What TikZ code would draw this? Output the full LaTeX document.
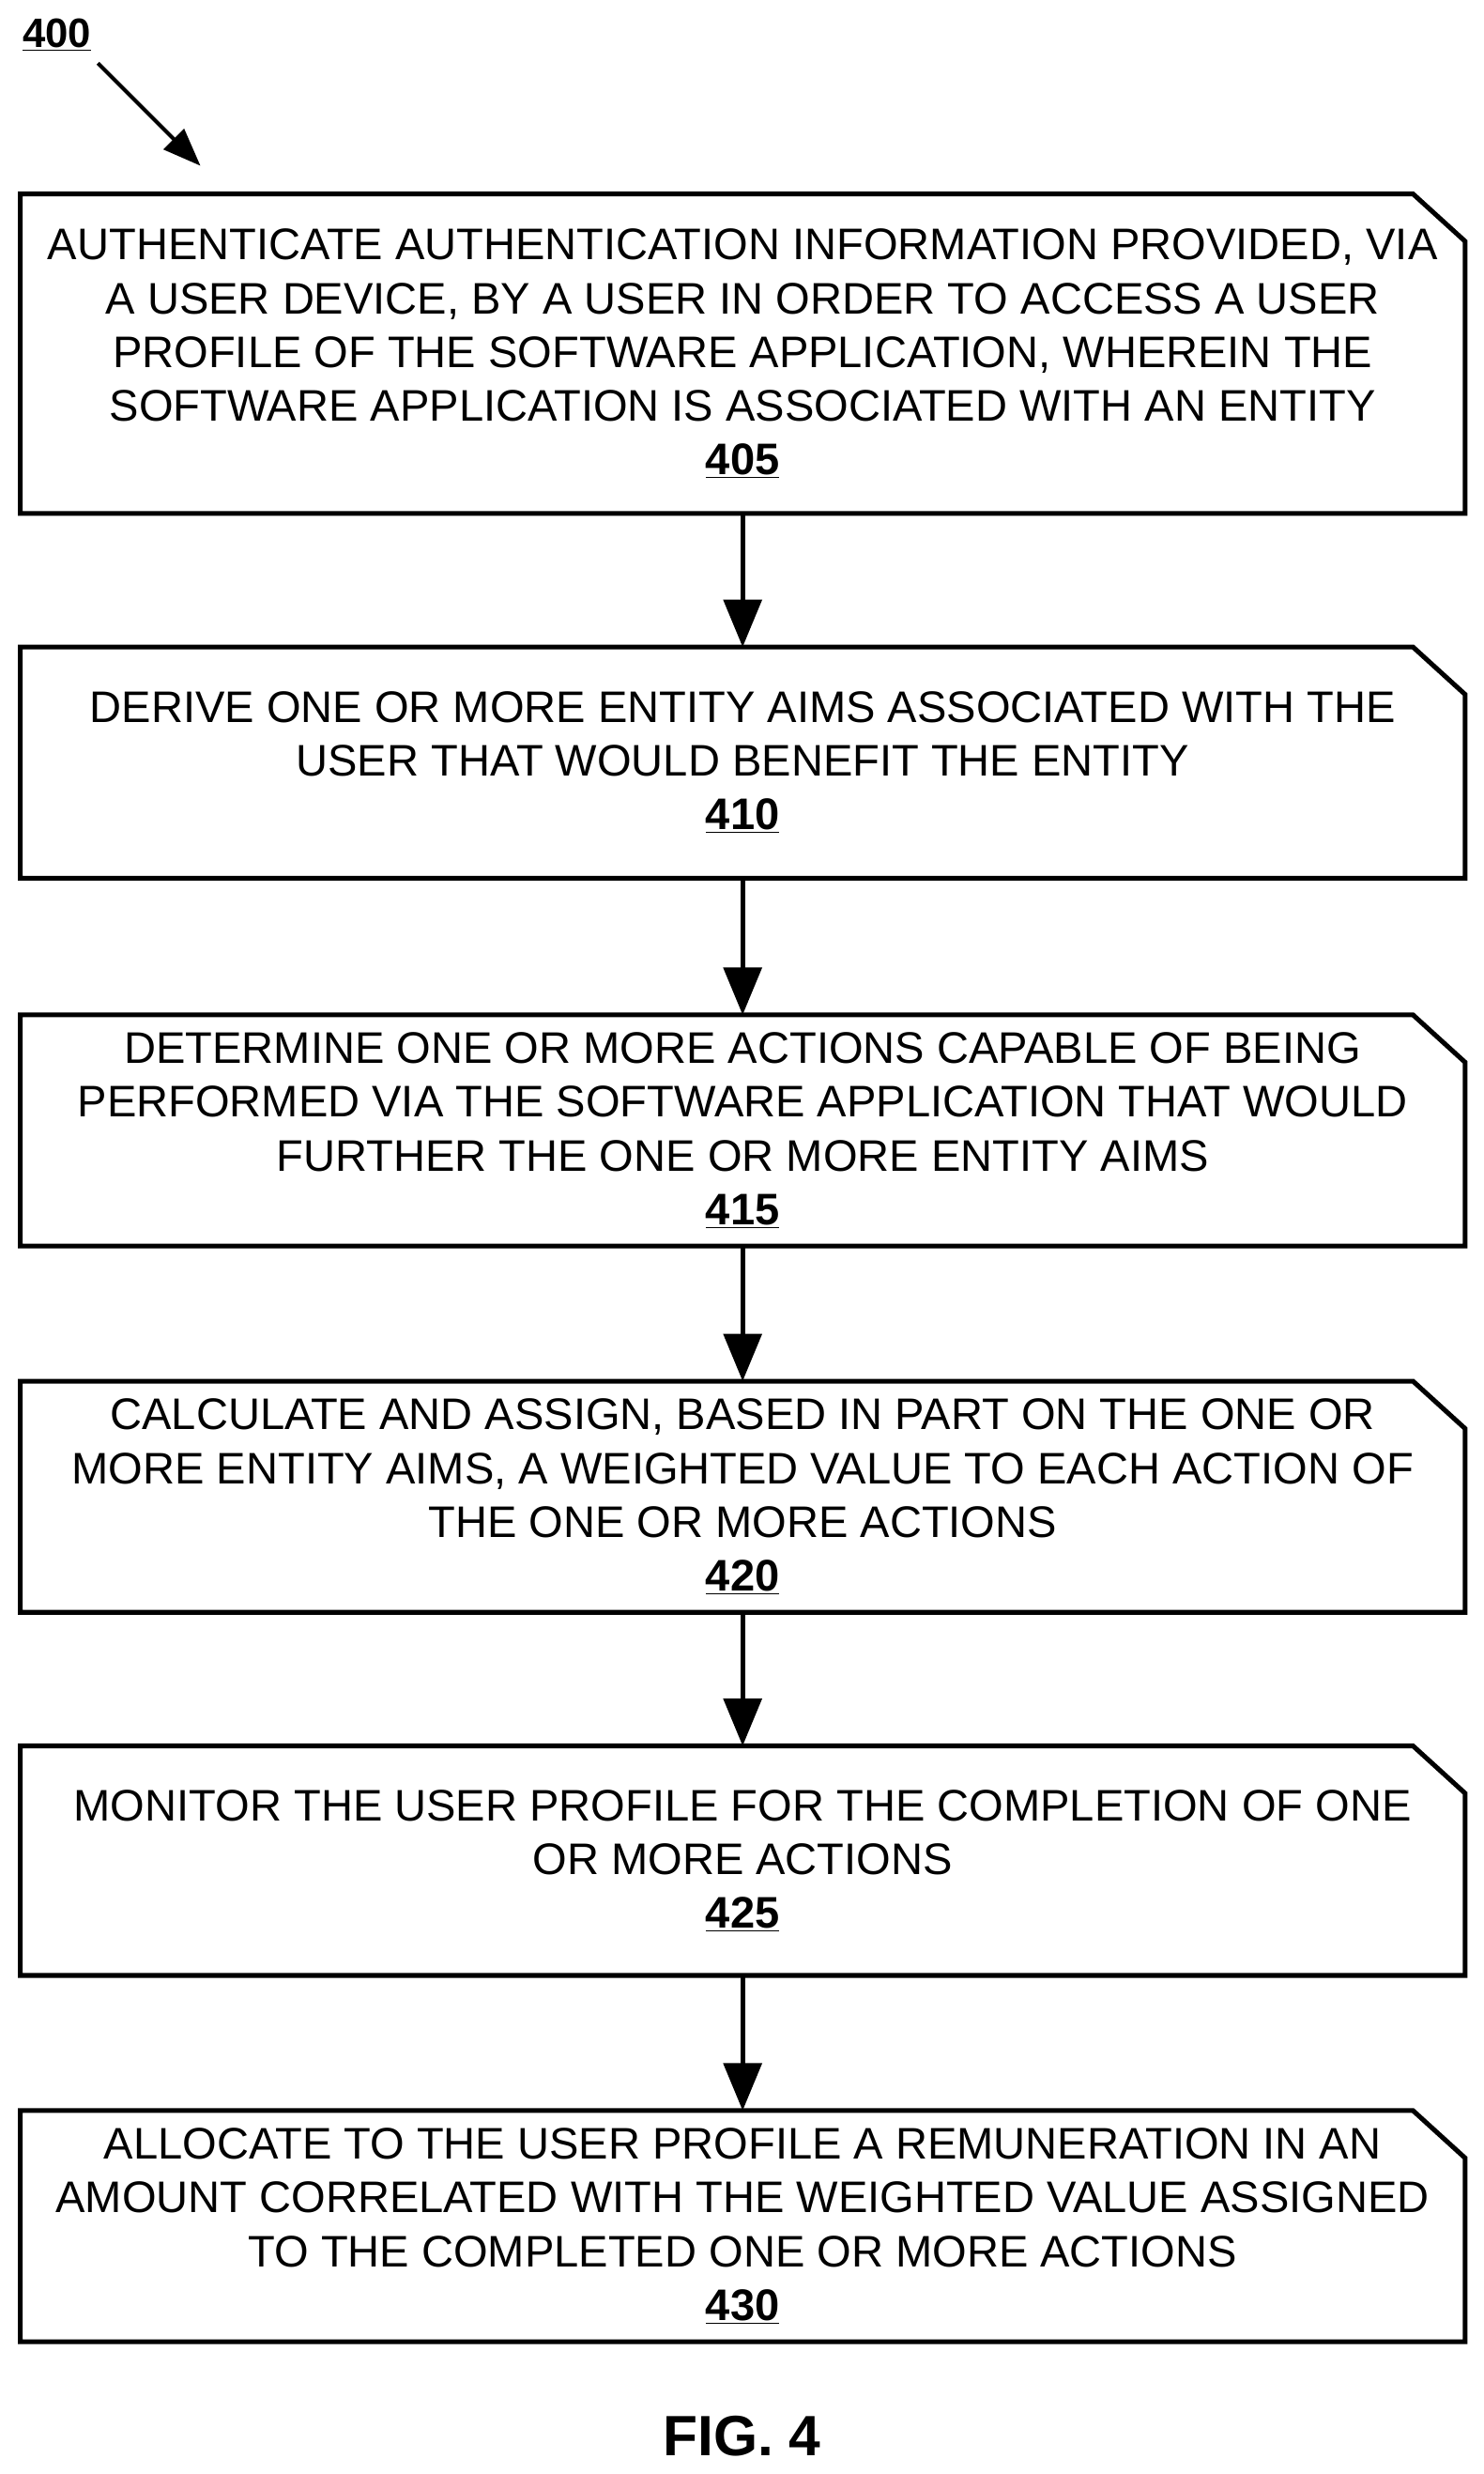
\documentclass[tikz,border=0pt]{standalone}
\usepackage{fontspec}
\setmainfont{Liberation Sans}
\usetikzlibrary{arrows.meta}
\begin{document}
\begin{tikzpicture}[x=1pt,y=1pt,
  stepbox/.style={minimum width=915pt,inner sep=0pt,align=center,font=\fontsize{28}{34}\selectfont},
  conn/.style={line width=3pt,-{Triangle[length=30pt,width=24pt]}}]
\useasboundingbox (0,0) rectangle (940,-1567);
\newcommand{\chamf}[1]{\draw[line width=3pt,line join=miter] (#1.south west) -- (#1.north west) -- ([xshift=-33pt]#1.north east) -- ([yshift=-30pt]#1.north east) -- (#1.south east) -- cycle;}
\node[stepbox,minimum height=202pt] (b1) at (470.5,-224) {AUTHENTICATE AUTHENTICATION INFORMATION PROVIDED, VIA\\A USER DEVICE, BY A USER IN ORDER TO ACCESS A USER\\PROFILE OF THE SOFTWARE APPLICATION, WHEREIN THE\\SOFTWARE APPLICATION IS ASSOCIATED WITH AN ENTITY\\\textbf{\underline{405}}};
\node[stepbox,minimum height=146pt] (b2) at (470.5,-483) {DERIVE ONE OR MORE ENTITY AIMS ASSOCIATED WITH THE\\USER THAT WOULD BENEFIT THE ENTITY\\\textbf{\underline{410}}};
\node[stepbox,minimum height=146pt] (b3) at (470.5,-716) {DETERMINE ONE OR MORE ACTIONS CAPABLE OF BEING\\PERFORMED VIA THE SOFTWARE APPLICATION THAT WOULD\\FURTHER THE ONE OR MORE ENTITY AIMS\\\textbf{\underline{415}}};
\node[stepbox,minimum height=146pt] (b4) at (470.5,-948) {CALCULATE AND ASSIGN, BASED IN PART ON THE ONE OR\\MORE ENTITY AIMS, A WEIGHTED VALUE TO EACH ACTION OF\\THE ONE OR MORE ACTIONS\\\textbf{\underline{420}}};
\node[stepbox,minimum height=145pt] (b5) at (470.5,-1178.5) {MONITOR THE USER PROFILE FOR THE COMPLETION OF ONE\\OR MORE ACTIONS\\\textbf{\underline{425}}};
\node[stepbox,minimum height=146pt] (b6) at (470.5,-1410) {ALLOCATE TO THE USER PROFILE A REMUNERATION IN AN\\AMOUNT CORRELATED WITH THE WEIGHTED VALUE ASSIGNED\\TO THE COMPLETED ONE OR MORE ACTIONS\\\textbf{\underline{430}}};
\chamf{b1}\chamf{b2}\chamf{b3}\chamf{b4}\chamf{b5}\chamf{b6}
\draw[conn] (b1) -- (b2);
\draw[conn] (b2) -- (b3);
\draw[conn] (b3) -- (b4);
\draw[conn] (b4) -- (b5);
\draw[conn] (b5) -- (b6);
\node[font=\fontsize{26}{30}\selectfont\bfseries] (lbl) at (36,-22) {\underline{400}};
\coordinate (tip) at (127,-105);
\draw[line width=2.5pt,-{Triangle[length=24pt,width=18pt]}] (62,-40) -- (tip);
\node[font=\fontsize{36}{40}\selectfont\bfseries] (fig) at (470,-1543) {FIG. 4};
\end{tikzpicture}
\end{document}
